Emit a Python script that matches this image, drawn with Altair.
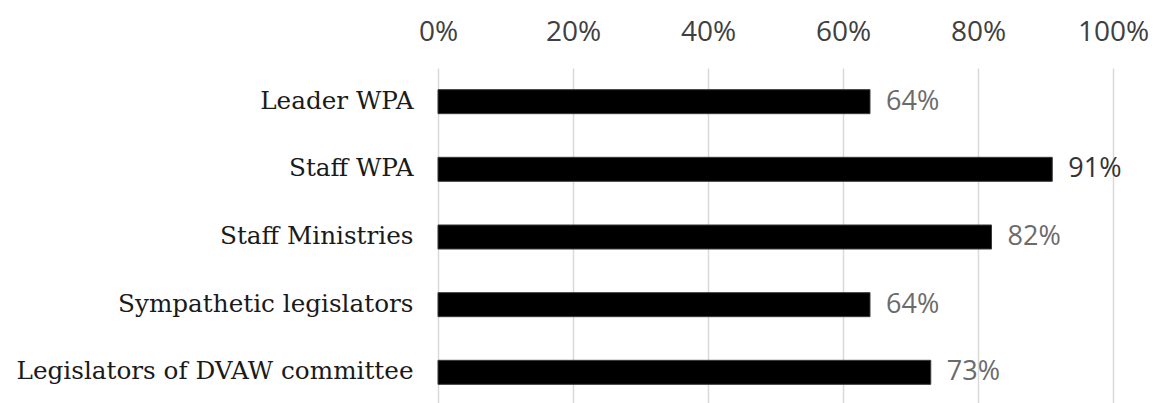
import altair as alt
import pandas as pd

categories = ["Leader WPA", "Staff WPA", "Staff Ministries", "Sympathetic legislators ", "Legislators of DVAW committee"]
values = [0.64, 0.91, 0.82, 0.64, 0.73]

df = pd.DataFrame({"category": categories, "value": values})

sans = "Open Sans"
serif = "DejaVu Serif"

y_enc = alt.Y("category:N", sort=categories, title=None,
              scale=alt.Scale(paddingInner=0.645, paddingOuter=0.32),
              axis=alt.Axis(labelFont=serif, labelFontSize=24.7, labelColor="#1a1a1a",
                            labelPadding=25, ticks=False, domain=False, labelLimit=600))
x_enc = alt.X("value:Q", title=None,
              scale=alt.Scale(domain=[0, 1], nice=False),
              axis=alt.Axis(orient="top", format=".0%", values=[0, 0.2, 0.4, 0.6, 0.8, 1.0],
                            labelFont=sans, labelFontSize=28, labelColor="#404040",
                            labelPadding=22, labelFlush=False, labelOverlap=False,
                            ticks=False, domain=False,
                            grid=True, gridColor="#d9d9d9", gridWidth=1.5))

bars = alt.Chart(df).mark_bar(color="#000000", stroke="#3a3a3a", strokeWidth=1).encode(y=y_enc, x=x_enc)

text = alt.Chart(df).mark_text(align="left", baseline="middle", dx=16, font=sans, fontSize=27).encode(
    y=y_enc,
    x=x_enc,
    text=alt.Text("value:Q", format=".0%"),
    color=alt.condition("datum.value == 0.91", alt.value("#333333"), alt.value("#6b6b6b")),
)

chart = (bars + text).properties(
    width=675, height=338,
    background="white",
    autosize=alt.AutoSizeParams(type="none"),
    padding={"left": 430, "top": 60, "right": 36, "bottom": 0},
).configure_view(stroke=None, strokeWidth=0).configure_axis(domain=False)

chart.save("out.html", embed_options={"renderer": "svg", "actions": False})
